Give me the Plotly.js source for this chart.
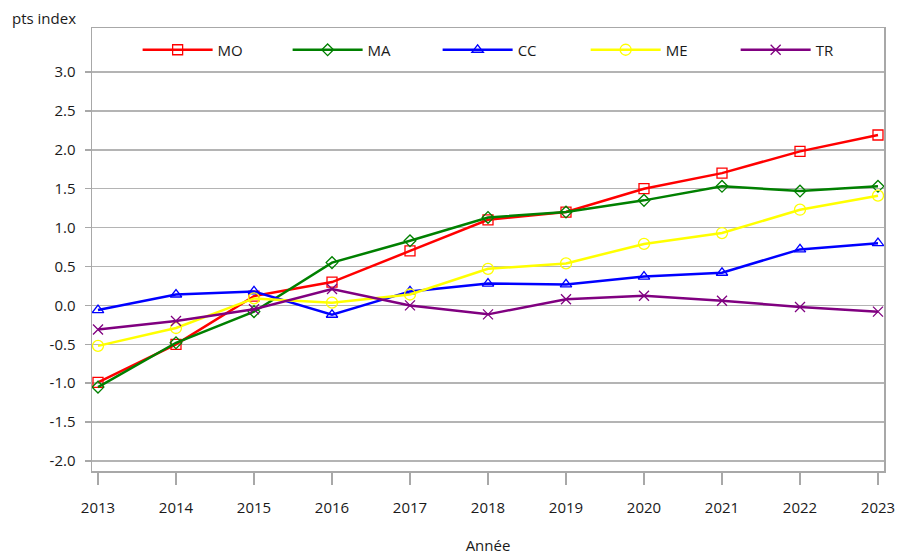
<!DOCTYPE html>
<html>
<head>
<meta charset="utf-8">
<script src="https://cdn.plot.ly/plotly-3.0.1.min.js"></script>
<style>html,body{margin:0;padding:0;background:#fff;}#chart{width:897px;height:555px;}</style>
</head>
<body>
<div id="chart"></div>
<script>
const years = [2013, 2014, 2015, 2016, 2017, 2018, 2019, 2020, 2021, 2022, 2023];
const seriesNames = ["MO", "MA", "CC", "ME", "TR"];
const MO = [-0.99, -0.50, 0.12, 0.30, 0.70, 1.10, 1.20, 1.50, 1.70, 1.98, 2.19];
const MA = [-1.05, -0.48, -0.08, 0.55, 0.83, 1.13, 1.20, 1.35, 1.53, 1.47, 1.53];
const CC = [-0.06, 0.14, 0.18, -0.12, 0.18, 0.28, 0.27, 0.37, 0.42, 0.72, 0.80];
const ME = [-0.52, -0.29, 0.09, 0.035, 0.14, 0.47, 0.54, 0.79, 0.93, 1.23, 1.41];
const TR = [-0.31, -0.20, -0.05, 0.21, 0.00, -0.115, 0.08, 0.125, 0.06, -0.02, -0.08];
const yTicks = [-2.0, -1.5, -1.0, -0.5, 0.0, 0.5, 1.0, 1.5, 2.0, 2.5, 3.0];

const values = [MO, MA, CC, ME, TR];
const colors = ["#ff0000", "#008000", "#0000ff", "#ffff00", "#800080"];
const symbols = ["square-open", "diamond-open", "triangle-up-open", "circle-open", "x-thin-open"];
const sizes = [10, 9, 10, 11, 10];
const legendIds = ["legend", "legend2", "legend3", "legend4", "legend5"];
const legendX = [0.0576, 0.2470, 0.4364, 0.6233, 0.8127];

const traces = seriesNames.map((n, i) => ({
  type: "scatter",
  mode: "lines+markers",
  name: n,
  legend: legendIds[i],
  x: years,
  y: values[i],
  line: {color: colors[i], width: 2.5},
  marker: {symbol: symbols[i], size: sizes[i], color: colors[i], line: {color: colors[i], width: 1.3}}
}));

const font = {family: "Open Sans, Noto Sans, sans-serif", size: 15, color: "#1a1a1a"};
const layout = {
  width: 897, height: 555,
  margin: {l: 92, r: 13, t: 28, b: 84},
  paper_bgcolor: "#fff", plot_bgcolor: "#fff",
  font: font,
  showlegend: true,
  xaxis: {
    range: [2012.923, 2023.077],
    tickvals: years, ticktext: years.map(String),
    ticks: "outside", ticklen: 12, tickcolor: "#a8a8a8", tickwidth: 1.5,
    showgrid: false, zeroline: false,
    showline: true, linecolor: "#a8a8a8", linewidth: 1.5, mirror: true,
    title: {text: "Année", font: font, standoff: 34},
    tickfont: font, ticklabelstandoff: 10
  },
  yaxis: {
    range: [-2.128, 3.565],
    tickvals: yTicks, ticktext: yTicks.map(v => v.toFixed(1)),
    ticks: "outside", ticklen: 6, tickcolor: "#a8a8a8", tickwidth: 1.5,
    showgrid: true, gridcolor: "#b4b4b4", gridwidth: 1.5, zeroline: false,
    showline: true, linecolor: "#a8a8a8", linewidth: 1.5, mirror: true,
    tickfont: font, ticklabelstandoff: 6
  },
  annotations: [{
    text: "pts index", xref: "paper", yref: "paper",
    x: -0.103, y: 1.0226, xanchor: "left", yanchor: "middle",
    showarrow: false, font: font
  }]
};
legendIds.forEach((id, i) => {
  layout[id] = {
    orientation: "h", x: legendX[i], y: 0.9503, xanchor: "left", yanchor: "middle",
    itemwidth: 70, bgcolor: "rgba(0,0,0,0)", font: font
  };
});

Plotly.newPlot("chart", traces, layout, {displayModeBar: false, staticPlot: true});
</script>
</body>
</html>
